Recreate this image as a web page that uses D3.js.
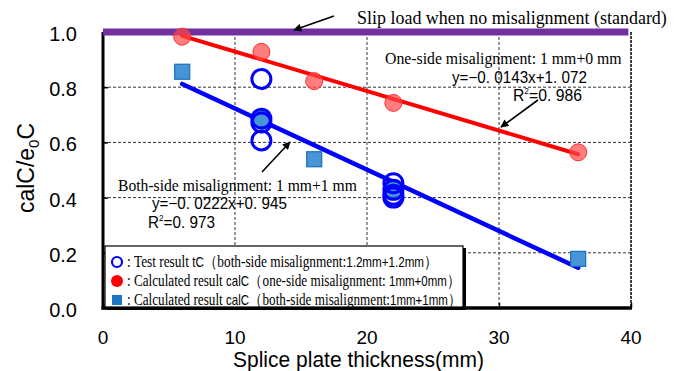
<!DOCTYPE html>
<html>
<head>
<meta charset="utf-8">
<script src="https://d3js.org/d3.v7.min.js"></script>
<style>
  body { margin: 0; background: #fff; }
  svg { display: block; }
</style>
</head>
<body>
<svg id="chart" width="683" height="371"></svg>
<script>
// ---- data ----
var xTicks = [0, 10, 20, 30, 40];
var yTicks = [0.0, 0.2, 0.4, 0.6, 0.8, 1.0];

// calculated calC, one-side misalignment 1mm+0mm (red circles)
var oneSideX = [6, 12, 16, 22, 36];
var oneSideY = [0.983, 0.928, 0.822, 0.743, 0.564];

// calculated calC, both-side misalignment 1mm+1mm (blue squares)
var bothSideX = [6, 12, 16, 22, 36];
var bothSideY = [0.856, 0.685, 0.539, 0.428, 0.178];

// test result tC, both-side misalignment 1.2mm+1.2mm (open blue circles)
var testX = [12, 12, 12, 12, 22, 22, 22, 22];
var testY = [0.83, 0.686, 0.672, 0.607, 0.452, 0.428, 0.41, 0.40];

// regression lines  y = a*x + b
var oneSideFit = {a: -0.0143, b: 1.072, from: 6, to: 36};
var bothSideFit = {a: -0.0222, b: 0.945, from: 6, to: 36};
var standardLevel = 1.0;

var svg = d3.select("#chart");

var x = d3.scaleLinear().domain([0, 40]).range([103, 631]);
var y = d3.scaleLinear().domain([0, 1]).range([308, 32]);

var serif = "Liberation Serif, Times New Roman, serif";
var sans = "Liberation Sans, Arial, sans-serif";

// grid (dashed)
svg.append("g").selectAll("line").data([10, 20, 30]).join("line")
  .attr("x1", d => x(d)).attr("x2", d => x(d))
  .attr("y1", y(1)).attr("y2", y(0))
  .style("stroke", "#333").style("stroke-width", 1).style("stroke-dasharray", "3,2");
svg.append("g").selectAll("line").data([0.2, 0.4, 0.6, 0.8]).join("line")
  .attr("x1", x(0)).attr("x2", x(40))
  .attr("y1", d => y(d)).attr("y2", d => y(d))
  .style("stroke", "#333").style("stroke-width", 1).style("stroke-dasharray", "3,2");

// right border
svg.append("line")
  .attr("x1", x(40)).attr("x2", x(40)).attr("y1", y(1)).attr("y2", y(0))
  .style("stroke", "#000").style("stroke-width", 1.5).style("stroke-dasharray", "3,1");

// axes (ticks pointing inward)
var yAxis = d3.axisRight(y).tickValues(yTicks).tickSize(5).tickFormat("");
var gy = svg.append("g").attr("transform", "translate(" + x(0) + ",0)").call(yAxis);
gy.select(".domain").remove();
gy.selectAll(".tick line").style("stroke-width", 1.5);
svg.append("line")
  .attr("x1", x(0)).attr("x2", x(0)).attr("y1", y(1)).attr("y2", y(0) + 1.5)
  .style("stroke", "#000").style("stroke-width", 3);

var xAxis = d3.axisTop(x).tickValues(xTicks).tickSize(5).tickFormat("");
var gx = svg.append("g").attr("transform", "translate(0," + y(0) + ")").call(xAxis);
gx.select(".domain").remove();
gx.selectAll(".tick line").style("stroke-width", 1.5);
svg.append("line")
  .attr("x1", x(0) - 1.5).attr("x2", x(40) + 1).attr("y1", y(0)).attr("y2", y(0))
  .style("stroke", "#000").style("stroke-width", 3.5);

// tick labels
svg.append("g").selectAll("text").data(yTicks).join("text")
  .attr("x", 77).attr("y", d => y(d) + 9)
  .attr("text-anchor", "end")
  .style("font-family", sans).style("font-size", "20px")
  .text(d => d.toFixed(1));
svg.append("g").selectAll("text").data(xTicks).join("text")
  .attr("x", d => x(d)).attr("y", 344)
  .attr("text-anchor", "middle")
  .style("font-family", sans).style("font-size", "19px")
  .text(d => d);

// squeeze a text horizontally so it spans exactly len px from x0
function fit(t, x0, y0, len) {
  var w = t.node().getComputedTextLength();
  t.attr("transform", "translate(" + x0 + "," + y0 + ") scale(" + (len / w) + ",1)");
  return t;
}
// text made of [string, font, size, dy] pieces
function rich(g, parts, x0, y0, len) {
  var t = g.append("text").attr("x", 0).attr("y", 0);
  parts.forEach(function(p) {
    var s = t.append("tspan").style("font-family", p[1]).style("font-size", p[2] + "px").text(p[0]);
    if (p[3]) s.attr("dy", p[3]);
  });
  return fit(t, x0, y0, len);
}

// axis titles
var yt = svg.append("text")
  .attr("transform", "translate(34,168) rotate(-90)")
  .attr("text-anchor", "middle")
  .attr("textLength", 90).attr("lengthAdjust", "spacingAndGlyphs")
  .style("font-family", sans).style("font-size", "23px");
yt.append("tspan").text("calC/e");
yt.append("tspan").attr("dy", 5).style("font-size", "15px").text("0");
yt.append("tspan").attr("dy", -5).text("C");

rich(svg, [["Splice plate thickness(mm)", sans, 21.5]], 233, 366.5, 251);

// standard line (no misalignment)
svg.append("line")
  .attr("x1", x(0)).attr("x2", x(39.8))
  .attr("y1", y(standardLevel)).attr("y2", y(standardLevel))
  .style("stroke", "#7030A0").style("stroke-width", 7);

// regression lines
function fitLine(f, color, w) {
  var pts = [[f.from, f.a * f.from + f.b], [f.to, f.a * f.to + f.b]];
  svg.append("path")
    .attr("d", d3.line().x(d => x(d[0])).y(d => y(d[1]))(pts))
    .style("stroke", color).style("stroke-width", w)
    .style("stroke-linecap", "round").style("fill", "none");
}
fitLine(oneSideFit, "#FF0000", 4);
fitLine(bothSideFit, "#0000FF", 4.5);

// markers
svg.append("g").selectAll("rect").data(d3.range(bothSideX.length)).join("rect")
  .attr("x", i => x(bothSideX[i]) - 7.5).attr("y", i => y(bothSideY[i]) - 7.5)
  .attr("width", 15).attr("height", 15)
  .style("fill", "#4795d6").style("stroke", "#1a6fb8").style("stroke-width", 1.2);

svg.append("g").selectAll("circle").data(d3.range(oneSideX.length)).join("circle")
  .attr("cx", i => x(oneSideX[i])).attr("cy", i => y(oneSideY[i]))
  .attr("r", 8.5)
  .style("fill", "rgba(255,70,70,0.7)").style("stroke", "#ff3030").style("stroke-width", 1);

svg.append("g").selectAll("circle").data(d3.range(testX.length)).join("circle")
  .attr("cx", i => x(testX[i])).attr("cy", i => y(testY[i]))
  .attr("r", 9.5)
  .style("fill", "none").style("stroke", "#0000FF").style("stroke-width", 3);

// arrows
svg.append("defs").append("marker")
  .attr("id", "arrowhead").attr("viewBox", "0 0 10 10")
  .attr("refX", 9).attr("refY", 5)
  .attr("markerWidth", 9).attr("markerHeight", 8)
  .attr("markerUnits", "userSpaceOnUse")
  .attr("orient", "auto")
  .append("path").attr("d", "M0,0 L10,5 L0,10 z").style("fill", "#000");

function arrow(p0, p1) {
  svg.append("line")
    .attr("x1", p0[0]).attr("y1", p0[1]).attr("x2", p1[0]).attr("y2", p1[1])
    .style("stroke", "#000").style("stroke-width", 1.6)
    .attr("marker-end", "url(#arrowhead)");
}
arrow([334, 16], [294, 30]);
arrow([538, 100], [501, 127]);
arrow([262, 172], [290, 142]);

// annotation text
rich(svg, [["Slip load when no misalignment (standard)", serif, 19]], 357, 24, 310);
rich(svg, [["One-side misalignment: 1 mm+0 mm", serif, 16.5]], 385, 64, 237);
rich(svg, [["y=\u22120. 0143x+1. 072", sans, 16.5]], 452, 83, 135);
rich(svg, [["R", sans, 17], ["2", sans, 9, -7], ["=0. 986", sans, 17, 7]], 513, 101, 69);

rich(svg, [["Both-side misalignment: 1 mm+1 mm", serif, 16.5]], 118, 191, 239);
rich(svg, [["y=\u22120. 0222x+0. 945", sans, 16.5]], 152, 209, 135);
rich(svg, [["R", sans, 17], ["2", sans, 9, -7], ["=0. 973", sans, 17, 7]], 148, 228, 67);

// legend
var lg = svg.append("g");
lg.append("rect").attr("x", 107).attr("y", 248).attr("width", 359).attr("height", 62)
  .style("fill", "#000");
lg.append("rect").attr("x", 105).attr("y", 246).attr("width", 358).attr("height", 61)
  .style("fill", "#fff").style("stroke", "#000").style("stroke-width", 1.2);

var legendRows = [
  {y: 262, len: 299, parts: [["Test result ", serif], ["tC", sans], ["（both-side misalignment:", serif], ["1.2mm+1.2mm", sans], ["）", serif]]},
  {y: 281, len: 322, parts: [["Calculated result ", serif], ["calC", sans], ["（one-side misalignment: ", serif], ["1mm+0mm", sans], ["）", serif]]},
  {y: 300, len: 323, parts: [["Calculated result ", serif], ["calC", sans], ["（both-side misalignment:", serif], ["1mm+1mm", sans], ["）", serif]]}
];
lg.append("circle").attr("cx", 117).attr("cy", legendRows[0].y).attr("r", 5)
  .style("fill", "none").style("stroke", "#0000FF").style("stroke-width", 2.2);
lg.append("circle").attr("cx", 117).attr("cy", legendRows[1].y).attr("r", 6)
  .style("fill", "#FF0000");
lg.append("rect").attr("x", 112).attr("y", legendRows[2].y - 5).attr("width", 10).attr("height", 10)
  .style("fill", "#1a75c2");

legendRows.forEach(function(r) {
  var parts = r.parts.map(p => [p[0], p[1], p[1] === sans ? 14 : 16]);
  parts.unshift([":  ", serif, 16]);
  rich(lg, parts, 127, r.y + 5, r.len + 11);
});
</script>
</body>
</html>
